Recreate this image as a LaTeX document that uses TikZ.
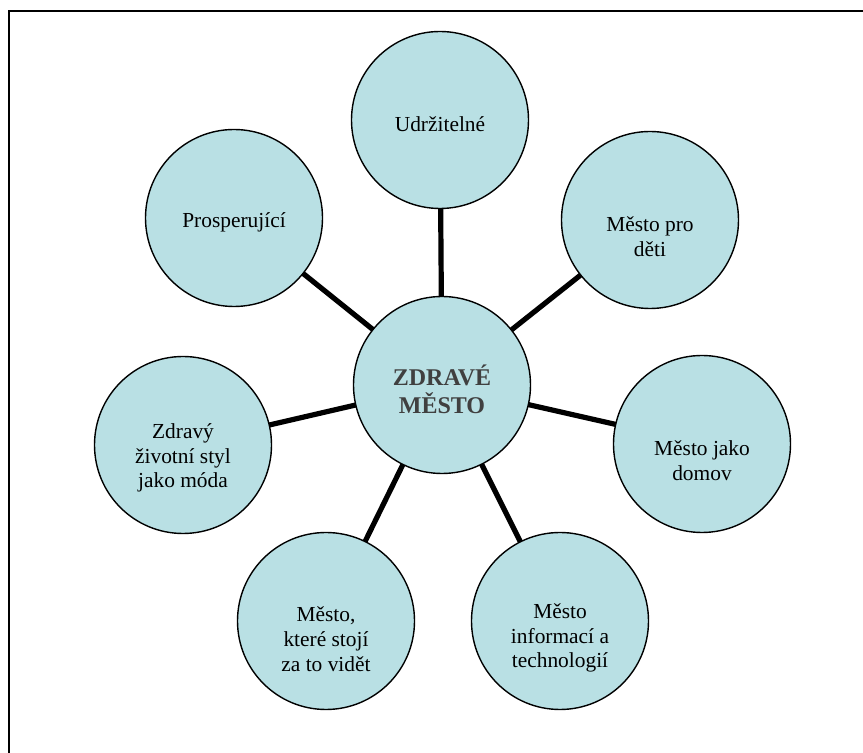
\documentclass[tikz,border=0pt]{standalone}
\usepackage{fontspec}
\setmainfont{Liberation Serif}
\newfontfamily\timesfont{Liberation Serif}
\usepackage{xcolor}
\usepackage{tikz}
\usetikzlibrary{backgrounds}
\definecolor{bubblefill}{HTML}{B9E0E4}
\definecolor{titlegray}{HTML}{404040}

\begin{document}
\begin{tikzpicture}[x=0.5pt,y=-0.5pt,
		bubble/.style={circle,draw=black,line width=0.7pt,fill=bubblefill,minimum size=88.5pt,inner sep=0pt},
		bubbletext/.style={align=center,inner sep=0pt,font=\timesfont\fontsize{10.7}{12.4}\selectfont},
		spoke/.style={draw=black,line width=2.6pt}]
					\useasboundingbox (0,0) rectangle (863,753);
					% frame
					\draw [black,line width=1pt] (9,753) -- (9,11) -- (863,11);
					% circles
					\node [bubble] (zdrave) at (442,385) {};
					\node [bubble] (udrz) at (440,120) {};
					\node [bubble] (prosp) at (234,218) {};
					\node [bubble] (deti) at (650,220) {};
					\node [bubble] (domov) at (702,444) {};
					\node [bubble] (info) at (560,621) {};
					\node [bubble] (videt) at (326,621) {};
					\node [bubble] (styl) at (183,445) {};
					% texts
					\node [bubbletext,font=\timesfont\bfseries\fontsize{12}{14}\selectfont,text=titlegray] (zdrave text) at (442,389) {ZDRAVÉ\\MĚSTO};
					\node [bubbletext] (udrz text) at (440,124) {Udržitelné};
					\node [bubbletext] (prosp text) at (234,222) {Prosperující};
					\node [bubbletext] (deti text) at (650,237) {Město pro\\děti};
					\node [bubbletext] (domov text) at (702,461) {Město jako\\domov};
					\node [bubbletext] (info text) at (560,638) {Město\\informací a\\technologií};
					\node [bubbletext] (videt text) at (326,639) {Město,\\které stojí\\za to vidět};
					\node [bubbletext] (styl text) at (183,458) {Zdravý\\životní styl\\jako móda};
					% spokes
					\begin{scope}[on background layer]
					\foreach \n in {udrz,prosp,deti,domov,info,videt,styl}
						\draw [spoke] (zdrave.center) -- (\n.center);
					\end{scope}
\end{tikzpicture}
\end{document}
